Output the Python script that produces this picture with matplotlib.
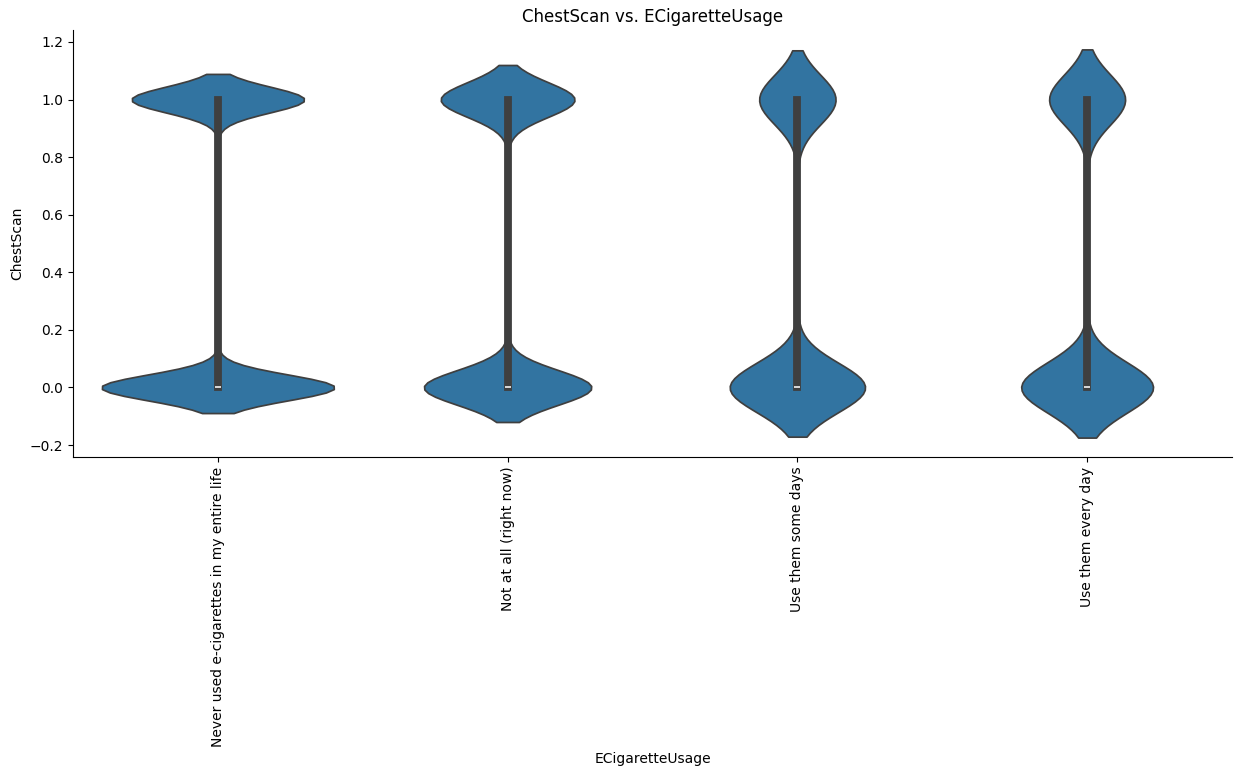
import numpy as np
import pandas as pd
import seaborn as sns
import matplotlib
matplotlib.use("Agg")
import matplotlib.pyplot as plt

# ChestScan (0/1) counts per e-cigarette usage group
categories = ["Never used e-cigarettes in my entire life",
              "Not at all (right now)",
              "Use them some days",
              "Use them every day"]
count_no = [97300, 21650, 3580, 3280]
count_yes = [72100, 17300, 2020, 1890]

rows = []
for cat, n0, n1 in zip(categories, count_no, count_yes):
    vals = np.repeat([0, 1], [n0, n1])
    rows.append(pd.DataFrame({"ECigaretteUsage": cat, "ChestScan": vals}))
df = pd.concat(rows, ignore_index=True)

fig = plt.figure(figsize=(12.58, 7.76), dpi=100)
ax = fig.add_axes([73 / 1258, 1 - 457 / 776, (1232 - 73) / 1258, (457 - 30) / 776])
sns.violinplot(data=df, x="ECigaretteUsage", y="ChestScan", order=categories, ax=ax)
ax.set_title("ChestScan vs. ECigaretteUsage")
plt.xticks(rotation=90)
sns.despine(ax=ax)
fig.savefig("out.png", dpi=100)
